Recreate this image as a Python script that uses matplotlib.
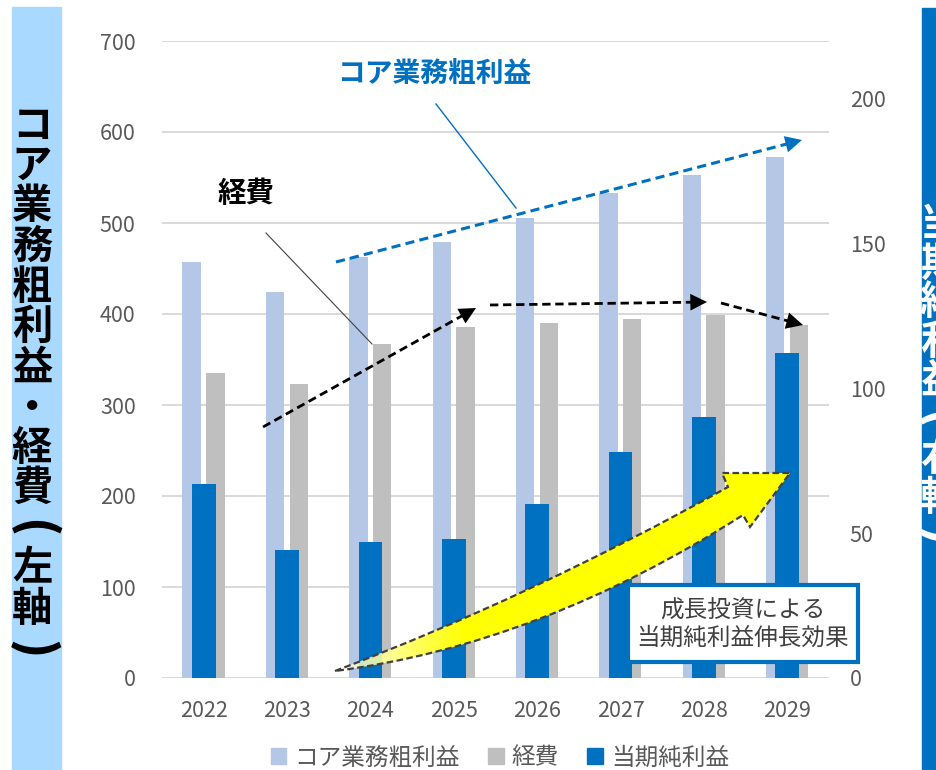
import numpy as np
import matplotlib
matplotlib.use("Agg")
import matplotlib.pyplot as plt
from matplotlib.patches import Rectangle, PathPatch, Patch
from matplotlib.path import Path

plt.rcParams['font.family'] = ['Noto Sans CJK JP', 'DejaVu Sans']

years = ['2022', '2023', '2024', '2025', '2026', '2027', '2028', '2029']
core_profit = [457, 424, 463, 479, 505, 533, 553, 573]   # left axis
expenses = [335, 323, 367, 386, 390, 394, 399, 388]      # left axis
net_income = [67, 44, 47, 48, 60, 78, 90, 112]           # right axis

c_core = '#B4C7E7'
c_exp = '#BFBFBF'
c_net = '#0070C0'
c_tick = '#595959'

W, H = 936, 770
fig = plt.figure(figsize=(W / 100, H / 100), dpi=100)
ax = fig.add_axes([162 / W, 1 - 678 / H, (829 - 162) / W, (678 - 41) / H])
ax2 = ax.twinx()

x = np.arange(len(years))
ax.bar(x - 0.145, core_profit, width=0.22, color=c_core, zorder=2)
ax.bar(x + 0.14, expenses, width=0.22, color=c_exp, zorder=2)
ax2.bar(x, net_income, width=0.285, color=c_net, zorder=3)

ax.set_xlim(-0.5, len(years) - 0.5)
ax.set_ylim(0, 700)
ax.set_yticks(range(0, 701, 100))
ax2.set_ylim(0, 219.7)
ax2.set_yticks(range(0, 201, 50))
ax.set_xticks(x)
ax.set_xticklabels(years)
ax.grid(axis='y', color='#D9D9D9', lw=1.4, zorder=0)
ax.set_axisbelow(True)
for a in (ax, ax2):
    for s in a.spines.values():
        s.set_visible(False)
    a.tick_params(length=0, labelsize=15.5, labelcolor=c_tick)
ax.tick_params(axis='y', pad=19)
ax.tick_params(axis='x', pad=16)
ax2.tick_params(axis='y', pad=15)

# legend
handles = [Patch(color=c_core), Patch(color=c_exp), Patch(color=c_net)]
fig.legend(handles, ['コア業務粗利益', '経費', '当期純利益'], loc='center',
           bbox_to_anchor=(500 / W, 1 - 758 / H), ncol=3, frameon=False,
           fontsize=17, labelcolor=c_tick, handlelength=0.65, handleheight=0.65,
           handletextpad=0.35, columnspacing=1.2)

# overlay in pixel coordinates for annotations
ov = fig.add_axes([0, 0, 1, 1], zorder=5)
ov.set_xlim(0, W)
ov.set_ylim(H, 0)
ov.axis('off')
ov.patch.set_alpha(0)

# side bands with vertical titles
ov.add_patch(Rectangle((12, 7), 49, 770, color='#AAD9FF', zorder=1))
ov.add_patch(Rectangle((922, 8), 20, 770, color='#0070C0', zorder=1))


def vtext(s, cx, y0, step, size, color):
    for i, ch in enumerate(s):
        y = y0 + i * step
        if ch in '（）':
            br = '(' if ch == '（' else ')'
            ov.text(cx, y, br, ha='center', va='center', fontsize=size * 1.2,
                    fontweight='heavy', color=color, rotation=-90,
                    rotation_mode='anchor', zorder=2)
        else:
            ov.text(cx, y, ch, ha='center', va='center', fontsize=size,
                    fontweight='bold', color=color, zorder=2)


vtext('コア業務粗利益・経費（左軸）', 32, 126, 40.3, 29, 'black')
vtext('当期純利益（右軸）', 940, 225, 39, 29, 'white')

# text labels with connector lines
ov.text(434, 75, 'コア業務粗利益', ha='center', va='center', fontsize=20,
        fontweight='bold', color=c_net)
ov.plot([436, 516], [104, 208], color=c_net, lw=1)
ov.text(246, 194, '経費', ha='center', va='center', fontsize=20.5,
        fontweight='bold', color='black')
ov.plot([266, 372], [233, 344], color='#404040', lw=0.8)


def dash_arrow(p0, p1, color, lw, hl):
    p0 = np.array(p0, float)
    p1 = np.array(p1, float)
    d = (p1 - p0) / np.hypot(*(p1 - p0))
    base = p1 - d * hl
    ov.plot([p0[0], base[0]], [p0[1], base[1]], color=color, lw=lw,
            dashes=(3, 1.7), solid_capstyle='butt')
    ov.annotate('', xy=p1, xytext=base,
                arrowprops=dict(arrowstyle='-|>,head_length=0.6,head_width=0.3',
                                color=color, lw=0, shrinkA=0, shrinkB=0,
                                mutation_scale=20))


dash_arrow((336, 262), (802, 140), c_net, 2.2, 14)
dash_arrow((263, 427), (476, 308), 'black', 2.0, 12)
dash_arrow((490, 305), (707, 302), 'black', 2.0, 12)
dash_arrow((721, 303), (803, 325), 'black', 2.0, 12)

# curved yellow arrow
verts = [(335, 671), (530.5, 597), (728, 487), (722, 473), (790, 473),
         (750, 527), (743, 515), (539, 645), (335, 671), (335, 671)]
codes = [Path.MOVETO, Path.CURVE3, Path.CURVE3, Path.LINETO, Path.LINETO,
         Path.LINETO, Path.LINETO, Path.CURVE3, Path.CURVE3, Path.CLOSEPOLY]
arrow_path = Path(verts, codes)
edge = PathPatch(arrow_path, facecolor='none', edgecolor='#404040', lw=1.6,
                 linestyle=(0, (3, 1.5)), zorder=4)
clip = PathPatch(arrow_path, facecolor='none', edgecolor='none')
ov.add_patch(clip)
xs = np.linspace(0, 1, 256)
t = np.clip((xs * (790 - 335)) / 130, 0, 1)
grad = np.zeros((1, 256, 4))
grad[0, :, 0] = 1
grad[0, :, 1] = 1
grad[0, :, 2] = 0.95 * (1 - t)
grad[0, :, 3] = 0.75 + 0.25 * np.minimum(1, t * 1.6)
im = ov.imshow(grad, extent=(335, 790, 675, 470), aspect='auto', zorder=3,
               interpolation='bilinear')
im.set_clip_path(clip)
ov.add_patch(edge)
ov.set_xlim(0, W)
ov.set_ylim(H, 0)

# callout box
ov.add_patch(Rectangle((628, 585), 230, 77, facecolor='white', edgecolor=c_net,
                       lw=3, zorder=6))
ov.text(743, 611, '成長投資による', ha='center', va='center', fontsize=17,
        color='#404040', zorder=7)
ov.text(743, 638, '当期純利益伸長効果', ha='center', va='center', fontsize=17,
        color='#404040', zorder=7)

fig.savefig('out.png', dpi=100)
